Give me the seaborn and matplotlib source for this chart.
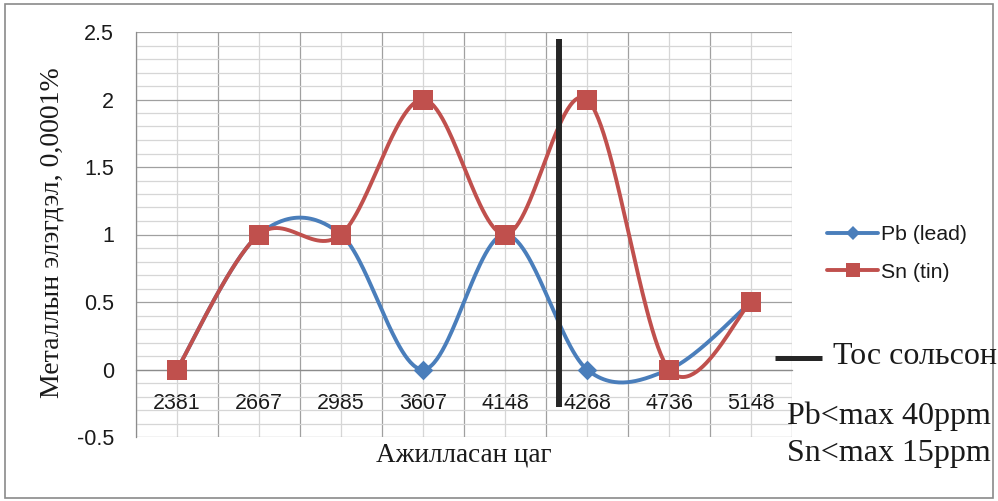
import numpy as np
import pandas as pd
import matplotlib
matplotlib.use("Agg")
import matplotlib.pyplot as plt
from matplotlib.lines import Line2D
from matplotlib.patches import Rectangle
from matplotlib.ticker import MultipleLocator, FixedLocator
import seaborn as sns

# Engine hours at each sampling point and measured metal content (0.0001 %)
hours = ["2381", "2667", "2985", "3607", "4148", "4268", "4736", "5148"]
pb_values = [0, 1, 1, 0, 1, 0, 0, 0.5]
sn_values = [0, 1, 1, 2, 1, 2, 0, 0.5]
series_names = ["Pb (lead)", "Sn (tin)"]

# Oil change happened between the 4148 h and 4268 h samples
oil_change_pos = 4.66
oil_change_span = (2.45, -0.28)

BLUE = "#4a7ebb"
RED = "#c0504d"
SANS = "Liberation Sans"
SERIF = "Liberation Serif"


def smooth_curve(xs, ys, n=60):
    """Catmull-Rom spline through the points (office-style smoothed line)."""
    pts = np.column_stack([xs, ys]).astype(float)
    padded = np.vstack([pts[0], pts, pts[-1]])
    t = np.linspace(0, 1, n)[:, None]
    h00 = 2 * t**3 - 3 * t**2 + 1
    h10 = t**3 - 2 * t**2 + t
    h01 = -2 * t**3 + 3 * t**2
    h11 = t**3 - t**2
    out = []
    for i in range(len(pts) - 1):
        p0, p1, p2, p3 = padded[i:i + 4]
        m1 = (p2 - p0) / 2
        m2 = (p3 - p1) / 2
        seg = h00 * p1 + h10 * m1 + h01 * p2 + h11 * m2
        out.append(seg if i == 0 else seg[1:])
    return np.vstack(out)


positions = np.arange(len(hours))
frames = []
for name, vals in zip(series_names, [pb_values, sn_values]):
    c = smooth_curve(positions, vals)
    frames.append(pd.DataFrame({"x": c[:, 0], "y": c[:, 1], "metal": name}))
curves = pd.concat(frames, ignore_index=True)
points = pd.DataFrame({
    "x": np.concatenate([positions, positions]),
    "y": pb_values + sn_values,
    "metal": [series_names[0]] * len(hours) + [series_names[1]] * len(hours),
})

sns.set_style("white")
plt.rcParams["font.family"] = [SANS, "DejaVu Sans"]

W, H = 998, 501
fig = plt.figure(figsize=(W / 100, H / 100), dpi=100)
ax = fig.add_axes([136 / W, 1 - 437 / H, (792 - 136) / W, (437 - 32) / H])

colors = {series_names[0]: BLUE, series_names[1]: RED}
markers = {series_names[0]: "D", series_names[1]: "s"}
sizes = {series_names[0]: 10.0, series_names[1]: 14.0}

for z, name in enumerate(series_names):
    sns.lineplot(data=curves[curves.metal == name], x="x", y="y", sort=False,
                 estimator=None, color=colors[name], lw=2.8, ax=ax,
                 zorder=3 + 2 * z, legend=False)
    sns.scatterplot(data=points[points.metal == name], x="x", y="y",
                    marker=markers[name], s=sizes[name] ** 2,
                    color=colors[name], linewidth=0, ax=ax,
                    zorder=4 + 2 * z, legend=False)

# oil change marker line
ax.plot([oil_change_pos, oil_change_pos], oil_change_span, color="#262626",
        lw=4.3, solid_capstyle="butt", zorder=8)

ax.set_xlim(-0.5, len(hours) - 0.5)
ax.set_ylim(-0.5, 2.5)

# y axis: major every 0.5, minor every 0.1
ax.yaxis.set_major_locator(MultipleLocator(0.5))
ax.yaxis.set_minor_locator(MultipleLocator(0.1))
ax.set_yticks([-0.5, 0, 0.5, 1, 1.5, 2, 2.5])
ax.set_yticklabels(["-0.5", "0", "0.5", "1", "1.5", "2", "2.5"])

# x axis: labels at category centres, darker lines at category borders
ax.xaxis.set_major_locator(FixedLocator(positions))
ax.xaxis.set_minor_locator(FixedLocator(np.arange(-0.5, len(hours), 1.0)))
ax.set_xticklabels(hours)

ax.grid(which="major", axis="y", color="#a0a0a0", lw=0.9, zorder=0)
ax.grid(which="minor", axis="y", color="#d6d6d6", lw=0.9, zorder=0)
ax.grid(which="major", axis="x", color="#d6d6d6", lw=0.9, zorder=0)
ax.grid(which="minor", axis="x", color="#a0a0a0", lw=0.9, zorder=0)
ax.set_axisbelow(True)

for s in ["top", "right"]:
    ax.spines[s].set_visible(False)
ax.spines["left"].set_color("#8c8c8c")
ax.spines["left"].set_linewidth(0.9)
ax.spines["bottom"].set_position(("data", 0))
ax.spines["bottom"].set_color("#8c8c8c")
ax.spines["bottom"].set_linewidth(0.9)

ax.tick_params(axis="y", which="major", length=5.5, width=0.9, color="#8c8c8c",
               pad=10.5, labelsize=15.5, labelcolor="#1a1a1a")
ax.tick_params(axis="y", which="minor", length=0)
ax.tick_params(axis="x", which="both", length=0, pad=17, labelsize=15.5,
               labelcolor="#1a1a1a")

ax.set_xlabel("Ажилласан цаг", fontfamily=SERIF, fontsize=19.5, color="#1a1a1a")
ax.xaxis.set_label_coords(0.5, (437 - 455) / 405)
ax.xaxis.label.set_va("center")
ax.set_ylabel("Металлын элэгдэл, 0,0001%", fontfamily=SERIF, fontsize=20,
              color="#1a1a1a")
ax.yaxis.set_label_coords((52 - 136) / 656, (437 - 233) / 405)
ax.yaxis.label.set_va("center")

# legend
handles = [
    Line2D([], [], color=BLUE, lw=2.8, marker="D", markersize=7.5,
           markeredgewidth=0),
    Line2D([], [], color=RED, lw=2.8, marker="s", markersize=10,
           markeredgewidth=0),
]
ax.legend(handles, series_names, loc="center left",
          bbox_to_anchor=(827 / W, 1 - 253.5 / H), bbox_transform=fig.transFigure,
          frameon=False, borderpad=0, borderaxespad=0, handlelength=2.4,
          handletextpad=0.15, labelspacing=0.85, fontsize=15.3,
          labelcolor="#1a1a1a")

# oil change legend entry and limits
fig.add_artist(Line2D([775 / W, 822 / W], [1 - 358 / H] * 2, color="#262626",
                      lw=3.6, solid_capstyle="butt"))
fig.text(833 / W, 1 - 357 / H, "Тос сольсон", fontfamily=SERIF, fontsize=23,
         va="center", ha="left", color="#1a1a1a")
fig.text(787 / W, 1 - 416 / H, "Pb<max 40ppm", fontfamily=SERIF, fontsize=23,
         va="center", ha="left", color="#1a1a1a")
fig.text(787 / W, 1 - 453 / H, "Sn<max 15ppm", fontfamily=SERIF, fontsize=23,
         va="center", ha="left", color="#1a1a1a")

# chart frame
fig.add_artist(Rectangle((5 / W, 1 - 498 / H), (993 - 5) / W, (498 - 4) / H,
                         transform=fig.transFigure, fill=False,
                         edgecolor="#8a8a8a", lw=1.2))

fig.savefig("out.png", dpi=100)
